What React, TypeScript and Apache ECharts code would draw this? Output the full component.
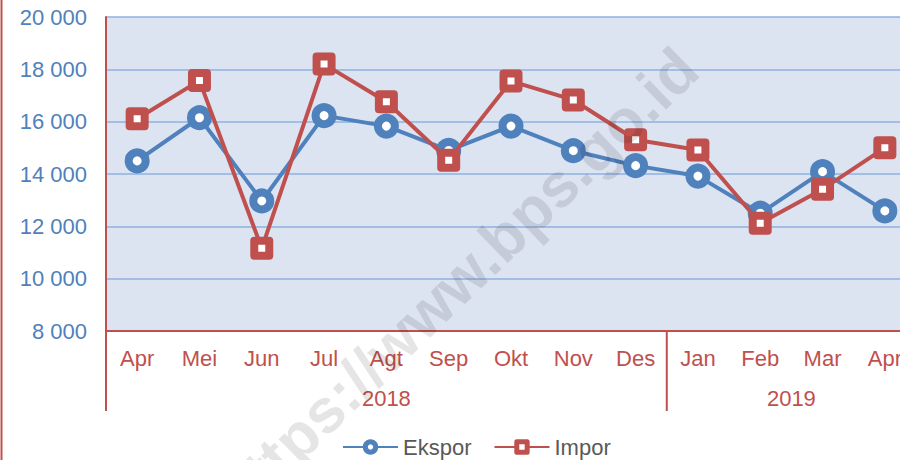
import React, { useEffect, useRef } from "react";
import * as echarts from "echarts";

const categories = ["Apr", "Mei", "Jun", "Jul", "Agt", "Sep", "Okt", "Nov", "Des", "Jan", "Feb", "Mar", "Apr"];
const years = ["2018", "2019"];
const yearGroups = [
  [0, 8],
  [9, 12],
];
const ekspor = [14500, 16150, 12970, 16230, 15830, 14900, 15830, 14890, 14320, 13920, 12500, 14090, 12590];
const impor = [16110, 17570, 11160, 18200, 16760, 14530, 17550, 16830, 15310, 14920, 12120, 13420, 15000];
const yMin = 8000;
const yMax = 20000;
const yStep = 2000;
const watermark = "https://www.bps.go.id";

const BLUE = "#4f81bd";
const RED = "#c0504d";
const FONT = "Liberation Sans, Arial, sans-serif";

export default function App() {
  const ref = useRef<HTMLDivElement>(null);

  useEffect(() => {
    if (!ref.current) return;
    const chart = echarts.init(ref.current, null, { renderer: "svg" });
    const fmt = (v: number) => String(v).replace(/\B(?=(\d{3})+(?!\d))/g, " ");
    chart.setOption({
      animation: false,
      textStyle: { fontFamily: FONT },
      grid: {
        left: 106,
        right: 4,
        top: 17,
        bottom: 129,
        show: true,
        backgroundColor: "#dce3f1",
        borderWidth: 0,
      },
      legend: {
        left: 337,
        top: 431,
        itemWidth: 55,
        itemHeight: 13,
        itemGap: 22,
        textStyle: { fontSize: 22, color: "#595959", fontFamily: FONT },
        itemStyle: { borderWidth: 5 },
        data: ["Ekspor", "Impor"],
      },
      xAxis: {
        type: "category",
        data: categories,
        boundaryGap: true,
        axisLine: { show: true, lineStyle: { color: RED, width: 2 } },
        axisTick: { show: false },
        axisLabel: { color: RED, fontSize: 22, margin: 16, interval: 0, fontFamily: FONT },
        splitLine: { show: false },
      },
      yAxis: {
        type: "value",
        min: yMin,
        max: yMax,
        interval: yStep,
        axisLine: { show: true, lineStyle: { color: RED, width: 2 } },
        axisTick: { show: false },
        axisLabel: { color: BLUE, fontSize: 22, margin: 19, formatter: fmt, fontFamily: FONT },
        splitLine: { show: true, lineStyle: { color: "#8fb2e0", width: 1.5 } },
      },
      series: [
        {
          name: "Ekspor",
          type: "line",
          data: ekspor,
          symbol: "circle",
          symbolSize: 17,
          lineStyle: { color: BLUE, width: 4 },
          itemStyle: { color: "#ffffff", borderColor: BLUE, borderWidth: 8 },
          z: 3,
        },
        {
          name: "Impor",
          type: "line",
          data: impor,
          symbol: "rect",
          symbolSize: 15,
          lineStyle: { color: RED, width: 4 },
          itemStyle: { color: "#ffffff", borderColor: RED, borderWidth: 8, borderJoin: "round" },
          z: 4,
        },
      ],
    });

    const cx = (i: number) => chart.convertToPixel({ xAxisIndex: 0 }, i) as number;
    const step = cx(1) - cx(0);
    const yb = chart.convertToPixel({ yAxisIndex: 0 }, yMin) as number;
    const yEnd = yb + 80;
    const bounds = [cx(0) - step / 2, cx(8) + step / 2, cx(12) + step / 2];
    const graphics: any[] = [];
    bounds.forEach((x) => {
      graphics.push({
        type: "line",
        shape: { x1: x, y1: yb, x2: x, y2: yEnd },
        style: { stroke: RED, lineWidth: 2 },
        z: 10,
      });
    });
    yearGroups.forEach((g, k) => {
      graphics.push({
        type: "text",
        x: (cx(g[0]) + cx(g[1])) / 2,
        y: yb + 67,
        style: {
          text: years[k],
          fill: RED,
          font: `22px ${FONT}`,
          align: "center",
          verticalAlign: "middle",
        },
        z: 10,
      });
    });
    graphics.push({
      type: "line",
      shape: { x1: 1.5, y1: 0, x2: 1.5, y2: 460 },
      style: { stroke: RED, lineWidth: 2 },
      z: 10,
    });
    graphics.push({
      type: "text",
      x: 457,
      y: 282,
      rotation: (44 * Math.PI) / 180,
      style: {
        text: watermark,
        fill: "rgba(0,0,0,0.1)",
        font: `bold 62px ${FONT}`,
        align: "center",
        verticalAlign: "middle",
      },
      silent: true,
      z: 100,
    });
    chart.setOption({ graphic: graphics });

    return () => chart.dispose();
  }, []);

  return (
    <div style={{ position: "absolute", left: 0, top: 0, width: 900, height: 460, overflow: "hidden" }}>
      <div ref={ref} style={{ width: 920, height: 460 }} />
    </div>
  );
}
